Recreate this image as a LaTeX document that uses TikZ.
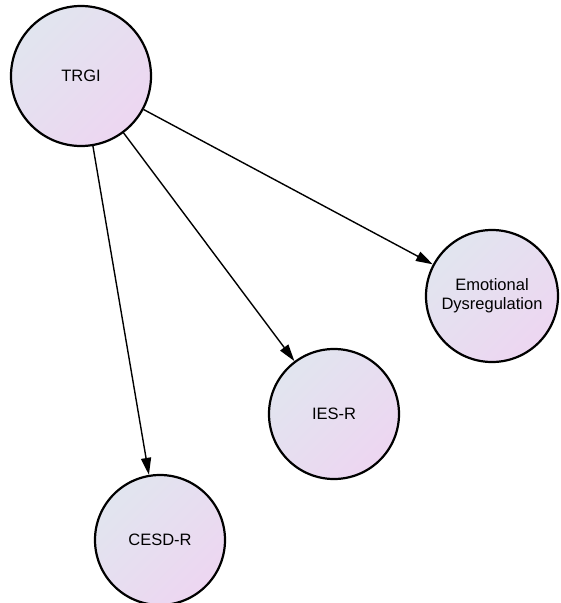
\documentclass[tikz,border=0pt]{standalone}
\usepackage{fontspec}
\setmainfont{Liberation Sans}
\usetikzlibrary{arrows.meta}
\definecolor{fillA}{HTML}{E1E5EF}
\definecolor{fillB}{HTML}{EDD6F1}
\begin{document}
\begin{tikzpicture}[x=1pt,y=-1pt,
  var/.style={circle, draw=black, line width=2.2pt, inner sep=0pt,
    top color=fillA, bottom color=fillB, shading angle=45,
    font=\fontsize{16.5}{19}\selectfont, align=center},
  path/.style={line width=1.4pt, -{Triangle[length=17pt,width=10pt]}}]
\useasboundingbox (0,0) rectangle (561,603);
\node[var, minimum size=140pt] (trgi) at (81,76) {TRGI};
\node[var, minimum size=132pt] (emo) at (492,296) {Emotional\\Dysregulation};
\node[var, minimum size=130pt] (ies) at (334,414) {IES-R};
\node[var, minimum size=130pt] (cesd) at (160,540) {CESD-R};
\draw[path] (trgi) -- (emo);
\draw[path] (trgi) -- (ies);
\draw[path] (trgi) -- (cesd);
\end{tikzpicture}
\end{document}
